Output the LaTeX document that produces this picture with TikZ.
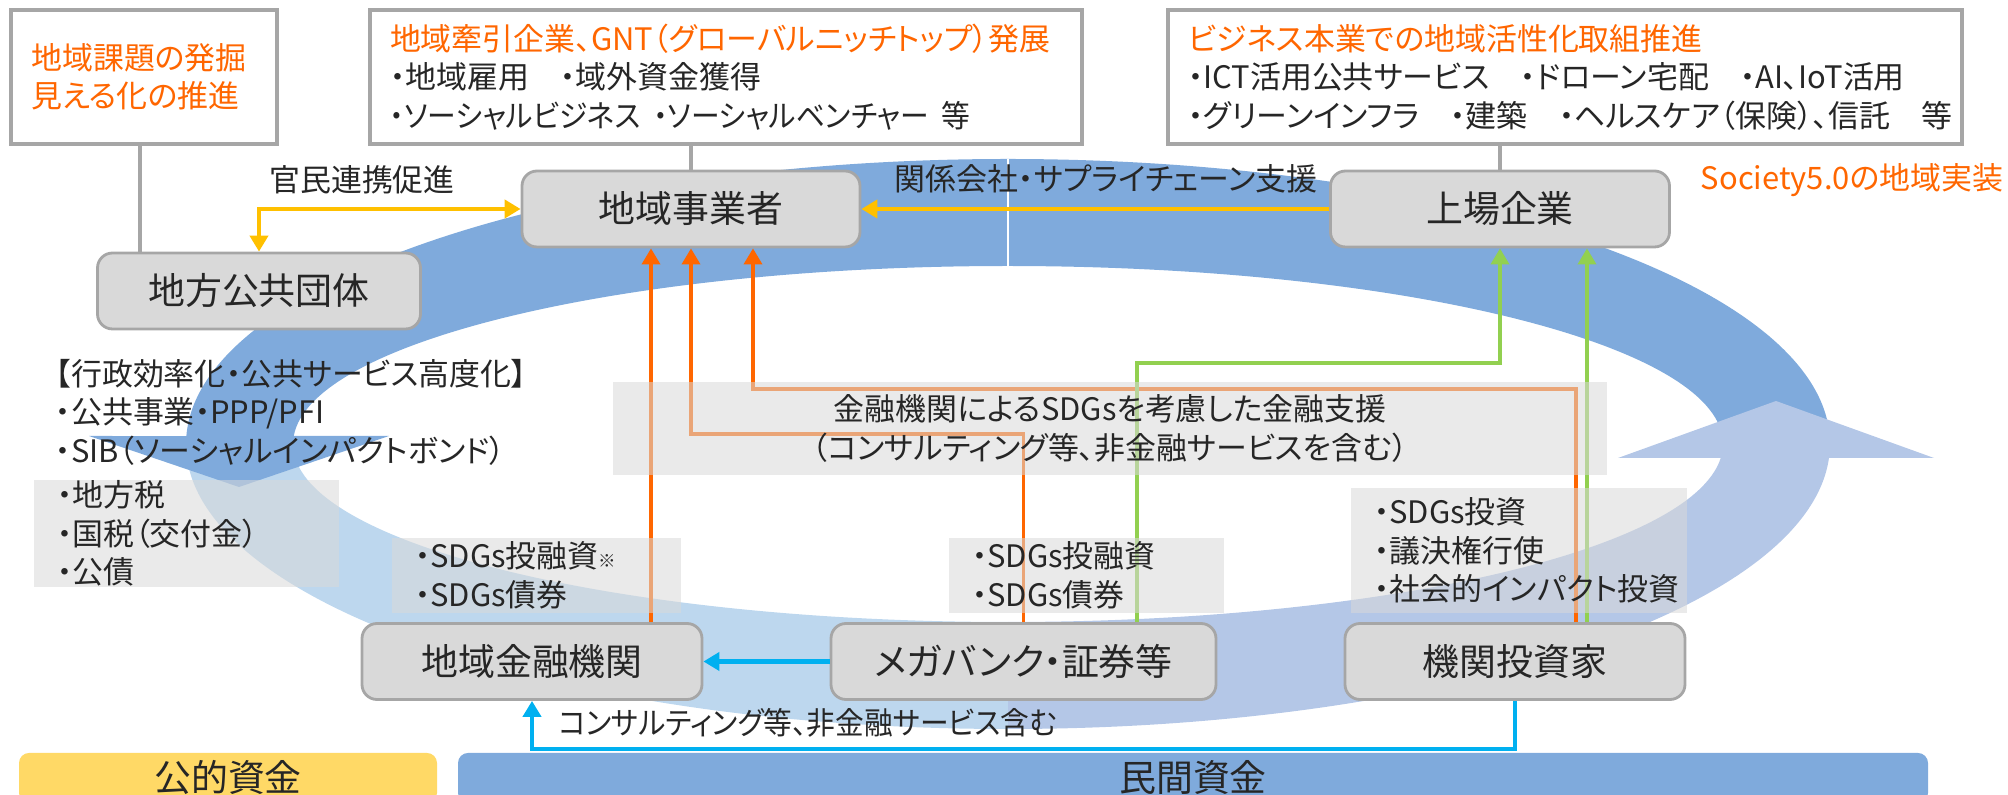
\documentclass[tikz,border=0pt]{standalone}
\usepackage{fontspec}
\setmainfont{Noto Sans CJK JP}[RawFeature=+palt]
\newfontfamily\narrowjp{Noto Sans CJK JP}[RawFeature=+palt, FakeStretch=0.93]
\usepackage{tikz}
\usetikzlibrary{arrows.meta}

\definecolor{bandDark}{RGB}{127,170,220}
\definecolor{bandLeft}{RGB}{189,215,238}
\definecolor{bandRight}{RGB}{180,199,231}
\definecolor{boxFill}{RGB}{217,217,217}
\definecolor{boxLine}{RGB}{166,166,166}
\definecolor{txt}{RGB}{38,38,38}
\definecolor{hiOrange}{RGB}{255,102,0}
\definecolor{arYellow}{RGB}{255,192,0}
\definecolor{arGreen}{RGB}{146,208,80}
\definecolor{arBlue}{RGB}{0,176,240}
\definecolor{barYellow}{RGB}{255,217,102}

\begin{document}
\begin{tikzpicture}[
  actor/.style={draw=boxLine, fill=boxFill, line width=0.8pt, rounded corners=1.5mm,
    minimum height=0.76cm, font=\fontsize{10.5}{12}\selectfont, text=txt},
  topbox/.style={draw=boxLine, fill=white, line width=1.2pt, minimum height=1.34cm,
    inner xsep=2mm, align=left, font=\fontsize{8.8}{10.95}\selectfont, text=txt},
  note/.style={fill=boxFill, fill opacity=0.55, text opacity=1, inner xsep=2.3mm, inner ysep=0pt,
    align=left, font=\fontsize{8.8}{10.95}\selectfont, text=txt},
  lbl/.style={inner sep=0pt, font=\fontsize{8.8}{10.95}\selectfont, text=txt},
  fund/.style={rounded corners=1mm, minimum height=0.5cm, inner sep=0pt,
    font=\fontsize{10.5}{12}\selectfont, text=txt},
  link/.style={line width=1pt},
  tip/.style={-{Triangle[length=1.6mm,width=1.8mm]}},
  tips/.style={{Triangle[length=1.6mm,width=1.8mm]}-{Triangle[length=1.6mm,width=1.8mm]}},
]
\useasboundingbox (0,0) rectangle (20.08,-7.95);

% Cycle band
\begin{scope}[shift={(10.08,-4.44)}]
  % lower half, left part
  \fill[bandLeft] (180:8.22 and 2.85) arc[start angle=180, end angle=270, x radius=8.22, y radius=2.85]
    -- (270:7.15 and 1.78) arc[start angle=270, end angle=180, x radius=7.15, y radius=1.78] -- cycle;
  % lower half, right part
  \fill[bandRight] (270:8.22 and 2.85) arc[start angle=270, end angle=357.18, x radius=8.22, y radius=2.85]
    -- (355.49:7.15 and 1.78) arc[start angle=355.49, end angle=270, x radius=7.15, y radius=1.78] -- cycle;
  % upper half with head
  \fill[bandDark] (0:8.22 and 2.85) arc[start angle=0, end angle=178.4, x radius=8.22, y radius=2.85]
    -- (-9.19,0.08) -- (-7.69,-0.43) -- (-6.19,0.08) -- (177.42:7.15 and 1.78)
    arc[start angle=177.42, end angle=0, x radius=7.15, y radius=1.78] -- cycle;
  % head on the right
  \fill[bandRight] (6.10,-0.14) -- (7.68,0.43) -- (9.26,-0.14) -- cycle;
  \draw[white, line width=0.3pt] (0,1.78) -- (0,2.85);
\end{scope}

% Top boxes
\node[topbox, text width=2.255cm, text=hiOrange] (kadai) at (1.44,-0.77) {地域課題の発掘\\見える化の推進};
\node[topbox, text width=6.72cm] (gnt) at (7.26,-0.77)
  {\textcolor{hiOrange}{地域牽引企業、GNT（グローバルニッチトップ）発展}\\・地域雇用　・域外資金獲得\\
   {\narrowjp ・ソーシャルビジネス\hspace{0.4em}・ソーシャルベンチャー\hspace{0.4em}等}};
\node[topbox, text width=7.54cm] (honsho) at (15.65,-0.77)
  {\textcolor{hiOrange}{ビジネス本業での地域活性化取組推進}\\・ICT活用公共サービス　・ドローン宅配　・AI、IoT活用\\・グリーンインフラ　・建築　・ヘルスケア（保険）、信託　等};

% Actors
\node[actor, minimum width=3.23cm] (chiho) at (2.59,-2.91) {地方公共団体};
\node[actor, minimum width=3.38cm] (jigyo) at (6.91,-2.09) {地域事業者};
\node[actor, minimum width=3.39cm] (jojo) at (15.0,-2.09) {上場企業};
\node[actor, minimum width=3.40cm] (chigin) at (5.32,-6.615) {地域金融機関};
\node[actor, minimum width=3.85cm] (mega) at (10.235,-6.615) {メガバンク・証券等};
\node[actor, minimum width=3.40cm] (kikan) at (15.15,-6.615) {機関投資家};

% Labels
\node[lbl] (kanmin) at (3.62,-1.80) {官民連携促進};
\node[lbl] (kankei) at (11.06,-1.79) {関係会社・サプライチェーン支援};
\node[lbl, text=hiOrange, anchor=east] (soc) at (20.04,-1.80) {Society5.0の地域実装};
\node[lbl, align=left, anchor=west] (gyosei) at (0.55,-4.12)
  {【行政効率化・公共サービス高度化】\\・公共事業・PPP/PFI\\・SIB（ソーシャルインパクトボンド）};
\node[lbl, anchor=west, font=\narrowjp\fontsize{8.8}{10.95}\selectfont] (consul) at (5.58,-7.23) {コンサルティング等、非金融サービス含む};

% Links to the top boxes
\draw[boxLine, line width=1pt] ([xshift=-0.4mm]kadai.south) -- ([xshift=-0.4mm]kadai.south |- chiho.north);
\draw[boxLine, line width=1pt] (gnt.south -| jigyo.north) -- (jigyo.north);
\draw[boxLine, line width=1pt] (honsho.south -| jojo.north) -- (jojo.north);

% Yellow
\draw[link, arYellow, line width=1.4pt, tips] (chiho.north) |- (jigyo.west);
\draw[link, arYellow, line width=1.4pt, tip] (jojo.west) -- (jigyo.east);

% Orange
\draw[link, hiOrange, tip] ([xshift=-4mm]jigyo.south |- chigin.north) -- ([xshift=-4mm]jigyo.south);
\draw[link, hiOrange, tip] (mega.north) -- ++(0,1.88) -| (jigyo.south);
\draw[link, hiOrange, tip] ([xshift=6.1mm]kikan.north) -- ++(0,2.33) -| ([xshift=6.2mm]jigyo.south);

% Green
\draw[link, arGreen, tip] ([xshift=11.35mm]mega.north) -- ++(0,2.59) -| (jojo.south);
\draw[link, arGreen, tip] ([xshift=7.2mm]kikan.north) -- ([xshift=7.2mm]kikan.north |- jojo.south);

% Blue
\draw[link, arBlue, line width=1.3pt, tip] (mega.west) -- (chigin.east);
\draw[link, arBlue, line width=1.3pt, tip] (kikan.south) -- ++(0,-0.48) -| (chigin.south);

% Notes
\node[note, text width=2.59cm, minimum height=1.07cm] (zei) at (1.865,-5.335) {・地方税\\・国税（交付金）\\・公債};
\node[note, text width=2.43cm, minimum height=0.75cm] (sdgA) at (5.365,-5.755)
  {・SDGs投融資{\fontsize{5}{6}\selectfont ※}\\・SDGs債券};
\node[note, align=center, minimum width=9.94cm, minimum height=0.93cm] (shien) at (11.10,-4.285)
  {金融機関によるSDGsを考慮した金融支援\\（コンサルティング等、非金融サービスを含む）};
\node[note, text width=2.29cm, minimum height=0.75cm] (sdgB) at (10.865,-5.755) {・SDGs投融資\\・SDGs債券};
\node[note, text width=2.90cm, minimum height=1.25cm] (sdgC) at (15.19,-5.505) {・SDGs投資\\・議決権行使\\・社会的インパクト投資};

% Funds
\node[fund, fill=barYellow, minimum width=4.18cm] (kotei) at (2.28,-7.78) {公的資金};
\node[fund, fill=bandDark, minimum width=14.70cm] (minkan) at (11.93,-7.78) {民間資金};

\end{tikzpicture}
\end{document}
